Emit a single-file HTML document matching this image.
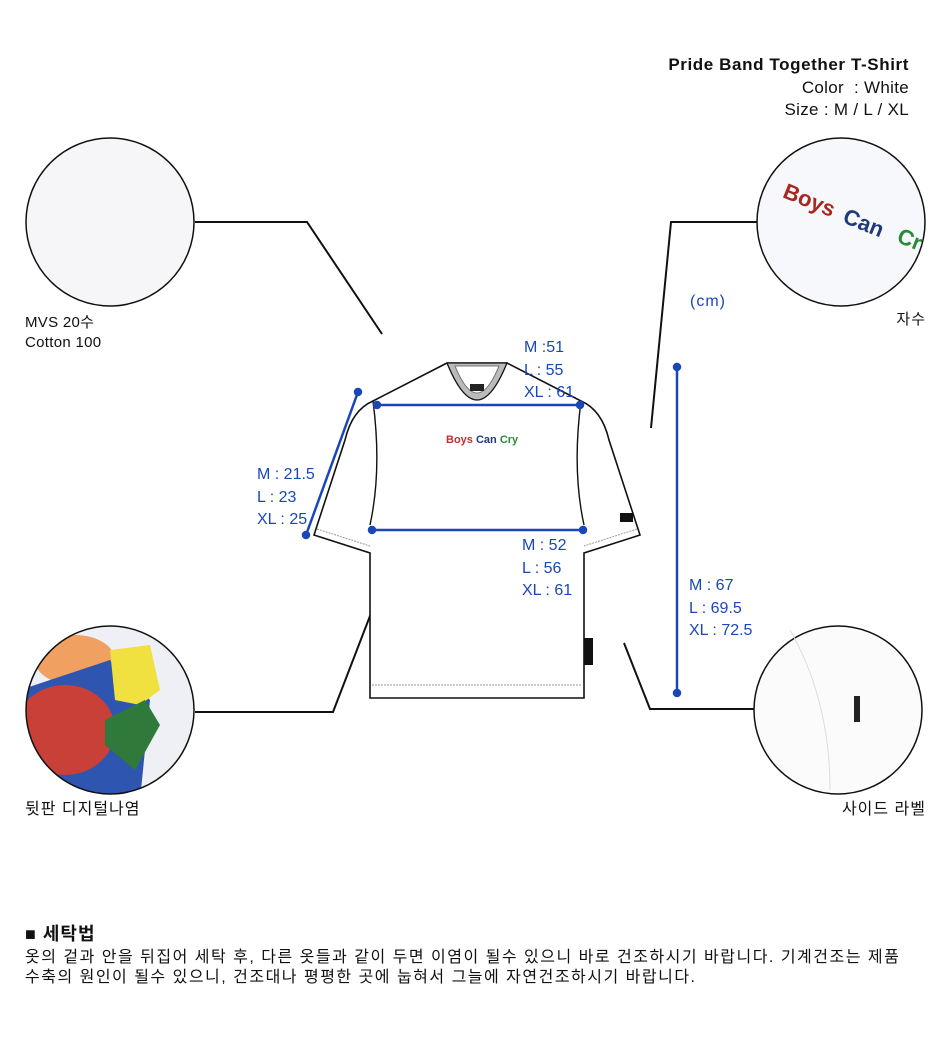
<!DOCTYPE html>
<html><head><meta charset="utf-8"><style>
body{margin:0;width:950px;height:1051px;background:#fff;font-family:"Liberation Sans","Noto Sans CJK KR",sans-serif;position:relative;overflow:hidden}
.t{position:absolute;font-size:15px;color:#111;line-height:20px}
.b{position:absolute;font-size:16px;color:#1a47b8;line-height:22.5px}
</style></head><body>
<svg width="950" height="1051" style="position:absolute;left:0;top:0">
<defs>
<clipPath id="c1"><circle cx="110" cy="710" r="84"/></clipPath>
<clipPath id="c2"><circle cx="841" cy="222" r="84"/></clipPath>
</defs>
<g stroke="#111" stroke-width="2" fill="none">
<polyline points="195,222 307,222 382,334"/>
<polyline points="757,222 671,222 651,428"/>
<polyline points="195,712 333,712 432,455"/>
<polyline points="757,709 650,709 624,643"/>
</g>
<circle cx="110" cy="222" r="84" fill="#f6f6f8" stroke="#111" stroke-width="1.5"/>
<g clip-path="url(#c1)">
<rect x="20" y="620" width="180" height="180" fill="#eef0f6"/>
<ellipse cx="75" cy="660" rx="40" ry="25" fill="#f0a060"/>
<path d="M20 690 L110 660 L150 700 L140 800 L20 800Z" fill="#2e55b0"/>
<ellipse cx="65" cy="730" rx="50" ry="45" fill="#c84038"/>
<path d="M110 650 L150 645 L160 690 L140 705 L115 700Z" fill="#f0e040"/>
<path d="M105 720 L145 700 L160 725 L135 770 L105 745Z" fill="#2f7a3a"/>
</g>
<circle cx="110" cy="710" r="84" fill="none" stroke="#111" stroke-width="1.5"/>
<circle cx="841" cy="222" r="84" fill="#f7f8fc" stroke="#111" stroke-width="1.5"/>
<g clip-path="url(#c2)" font-family="Liberation Sans" font-weight="bold" font-size="22">
<text x="783" y="200" fill="#a82820" transform="rotate(22 790 195)">Boys</text>
<text x="843" y="225" fill="#1f3a78" transform="rotate(22 850 220)">Can</text>
<text x="897" y="245" fill="#2a8a3a" transform="rotate(22 905 240)">Cry</text>
</g>
<circle cx="838" cy="710" r="84" fill="#fbfbfc" stroke="#111" stroke-width="1.5"/>
<path d="M790 630 Q830 700 830 790" stroke="#ddd" fill="none"/>
<rect x="854" y="696" width="6" height="26" fill="#222"/>
<g stroke="#111" stroke-width="1.6" fill="#fff">
<path d="M447,363 L373,401 Q352,410 345,440 L314,535 L370,553 L370,698 L584,698 L584,553 L640,535 L609,440 Q602,410 581,401 L507,363 Z"/>
</g>
<path d="M373,401 Q382,470 370,525 M581,401 Q572,470 584,525" stroke="#111" stroke-width="1.4" fill="none"/>
<path d="M447,363 Q477,437 507,363 Z" fill="#bbb" stroke="#111" stroke-width="1.3"/>
<path d="M455,366 Q477,420 499,366 Z" fill="#fff" stroke="#777" stroke-width="1"/>
<rect x="470" y="384" width="14" height="7" fill="#222"/>
<g stroke="#999" stroke-width="1" stroke-dasharray="2,1" fill="none">
<line x1="317" y1="529" x2="370" y2="546"/><line x1="637" y1="529" x2="584" y2="546"/>
<line x1="372" y1="685" x2="582" y2="685"/>
</g>
<rect x="620" y="513" width="13" height="9" fill="#111"/>
<rect x="584" y="638" width="9" height="27" fill="#111"/>
<text x="446" y="443" font-size="11" font-weight="bold" font-family="Liberation Sans"><tspan fill="#c03030">Boys</tspan> <tspan fill="#1f3a78">Can</tspan> <tspan fill="#2a8a3a">Cry</tspan></text>
<g stroke="#1a47b8" stroke-width="2.5" fill="#1a47b8">
<line x1="377" y1="405" x2="580" y2="405"/><circle cx="377" cy="405" r="3"/><circle cx="580" cy="405" r="3"/>
<line x1="372" y1="530" x2="583" y2="530"/><circle cx="372" cy="530" r="3"/><circle cx="583" cy="530" r="3"/>
<line x1="358" y1="392" x2="306" y2="535"/><circle cx="358" cy="392" r="3"/><circle cx="306" cy="535" r="3"/>
<line x1="677" y1="367" x2="677" y2="693"/><circle cx="677" cy="367" r="3"/><circle cx="677" cy="693" r="3"/>
</g>
</svg>
<div class="t" style="right:41px;top:55px;text-align:right;font-weight:bold;font-size:17px;letter-spacing:0.6px">Pride Band Together T-Shirt</div>
<div class="t" style="right:41px;top:77px;text-align:right;font-size:17px;line-height:22px;letter-spacing:0.3px">Color &nbsp;: White<br>Size : M / L / XL</div>
<div class="t" style="left:25px;top:313px;font-size:15px;letter-spacing:0.3px">MVS 20수<br>Cotton 100</div>
<div class="t" style="right:24px;top:310px;font-size:15px;letter-spacing:1px">자수</div>
<div class="t" style="left:25px;top:800px;font-size:16px;letter-spacing:1px">뒷판 디지털나염</div>
<div class="t" style="right:24px;top:800px;font-size:16px;letter-spacing:1px">사이드 라벨</div>
<div class="b" style="left:690px;top:291px;letter-spacing:1px">(cm)</div>
<div class="b" style="left:524px;top:337px">M :51<br>L : 55<br>XL : 61</div>
<div class="b" style="left:257px;top:464px">M : 21.5<br>L : 23<br>XL : 25</div>
<div class="b" style="left:522px;top:535px">M : 52<br>L : 56<br>XL : 61</div>
<div class="b" style="left:689px;top:575px">M : 67<br>L : 69.5<br>XL : 72.5</div>
<div class="t" style="left:25px;top:924px;font-size:18px;font-weight:bold;letter-spacing:1px">■ 세탁법</div>
<div class="t" style="left:25px;top:948px;font-size:16px;line-height:20px;letter-spacing:1.5px;white-space:nowrap">옷의 겉과 안을 뒤집어 세탁 후, 다른 옷들과 같이 두면 이염이 될수 있으니 바로 건조하시기 바랍니다. 기계건조는 제품<br>수축의 원인이 될수 있으니, 건조대나 평평한 곳에 눕혀서 그늘에 자연건조하시기 바랍니다.</div>
</body></html>
